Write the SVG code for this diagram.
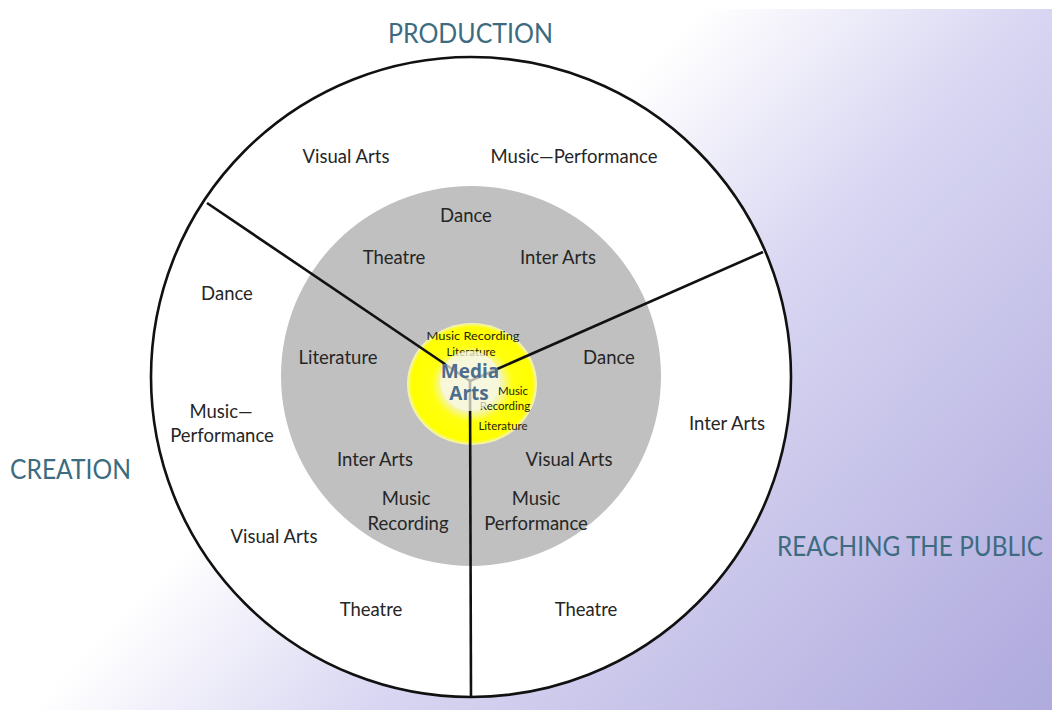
<svg xmlns="http://www.w3.org/2000/svg" width="1052" height="710" viewBox="0 0 1052 710">
<defs>
<linearGradient id="bg" gradientUnits="userSpaceOnUse" x1="520" y1="200" x2="1052" y2="710">
<stop offset="0" stop-color="#ffffff"/>
<stop offset="0.33" stop-color="#d8d6f2"/>
<stop offset="0.9" stop-color="#b4afe0"/>
<stop offset="1" stop-color="#b0abde"/>
</linearGradient>
<radialGradient id="yel" cx="0.5" cy="0.5" r="0.5">
<stop offset="0" stop-color="#f6f6e4"/>
<stop offset="0.45" stop-color="#f4f4b8"/>
<stop offset="0.62" stop-color="#ffff10"/>
<stop offset="0.93" stop-color="#ffff00"/>
<stop offset="1" stop-color="#f2f2c0"/>
</radialGradient>
<style>
.lbl{font-family:Lato,"Liberation Sans",sans-serif;font-size:18.5px;fill:#262626;text-anchor:middle}
.ttl{font-family:Lato,"Liberation Sans",sans-serif;font-size:27px;fill:#3d6b7f}
.sm{font-family:Lato,"Liberation Sans",sans-serif;font-size:11.5px;fill:#262605;text-anchor:middle}
.ma{font-family:"Open Sans","Noto Sans","Liberation Sans",sans-serif;font-size:19px;font-weight:700;fill:#4d6d8e;text-anchor:middle}
.ln{stroke:#111;stroke-width:2.6;fill:none;stroke-linecap:butt}
</style>
</defs>
<rect width="1052" height="710" fill="url(#bg)"/>
<rect width="1052" height="9" fill="#ffffff"/>

<g id="outer-ring">
<circle cx="471" cy="377" r="320" fill="#ffffff" stroke="#111" stroke-width="2.6"/>
</g>
<g id="middle-ring">
<circle cx="471" cy="376" r="190" fill="#c0c0c0"/>
</g>
<g id="core">
<ellipse cx="472" cy="384" rx="65" ry="61" fill="url(#yel)"/>
</g>

<g id="connectors">
<line class="ln" x1="470" y1="381" x2="207" y2="203"/>
<line class="ln" x1="470" y1="381" x2="763" y2="252"/>
<line class="ln" x1="470" y1="381" x2="471" y2="697"/>
</g>

<g id="core-labels">
<text class="sm" x="473" y="340" font-size="13.5" textLength="93" lengthAdjust="spacingAndGlyphs">Music Recording</text>
<text class="sm" x="471" y="356" font-size="11">Literature</text>
<text class="sm" x="513" y="395" font-size="11">Music</text>
<text class="sm" x="505" y="410" font-size="11">Recording</text>
<text class="sm" x="503" y="430" font-size="11">Literature</text>
<circle cx="470" cy="381" r="30" fill="#f8f8e4" opacity="0.72"/>
<text class="ma" x="470" y="378">Media</text>
<text class="ma" x="469" y="400">Arts</text>
</g>

<g id="titles">
<text class="ttl" x="388" y="43" textLength="165" lengthAdjust="spacingAndGlyphs">PRODUCTION</text>
<text class="ttl" x="10" y="479" textLength="121" lengthAdjust="spacingAndGlyphs">CREATION</text>
<text class="ttl" x="777" y="556" font-size="25" textLength="266" lengthAdjust="spacingAndGlyphs">REACHING THE PUBLIC</text>
</g>

<g id="production-labels">
<text class="lbl" x="346" y="163">Visual Arts</text>
<text class="lbl" x="574" y="163">Music—Performance</text>
<text class="lbl" x="466" y="222">Dance</text>
<text class="lbl" x="394" y="264">Theatre</text>
<text class="lbl" x="558" y="264">Inter Arts</text>
</g>

<g id="creation-labels">
<text class="lbl" x="227" y="300">Dance</text>
<text class="lbl" x="338" y="364">Literature</text>
<text class="lbl" x="221" y="418">Music—</text>
<text class="lbl" x="222" y="442">Performance</text>
<text class="lbl" x="375" y="466">Inter Arts</text>
<text class="lbl" x="406" y="505">Music</text>
<text class="lbl" x="408" y="530">Recording</text>
<text class="lbl" x="274" y="543">Visual Arts</text>
<text class="lbl" x="371" y="616">Theatre</text>
</g>

<g id="public-labels">
<text class="lbl" x="609" y="364">Dance</text>
<text class="lbl" x="727" y="430">Inter Arts</text>
<text class="lbl" x="569" y="466">Visual Arts</text>
<text class="lbl" x="536" y="505">Music</text>
<text class="lbl" x="536" y="530">Performance</text>
<text class="lbl" x="586" y="616">Theatre</text>
</g>
</svg>
